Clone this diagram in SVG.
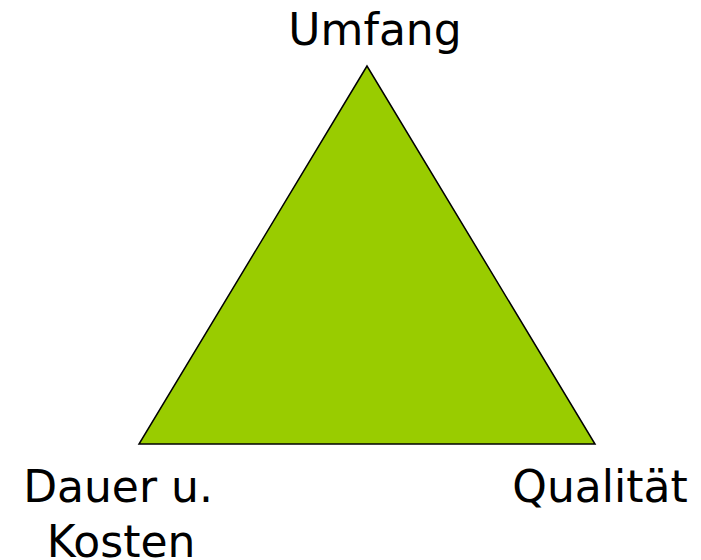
<svg xmlns="http://www.w3.org/2000/svg" width="701" height="560" viewBox="0 0 701 560">
<style>
.lbl{font-family:"DejaVu Sans",Verdana,sans-serif;font-size:44px;fill:#000;text-anchor:middle}
.tri{fill:#99CC00;stroke:#000;stroke-width:1.5}
</style>
<rect width="701" height="560" fill="#fff"/>
<g id="triangle"><polygon class="tri" points="367,66 139,444 595,444"/></g>
<g id="umfang"><text class="lbl" x="375" y="45">Umfang</text></g>
<g id="dauer"><text class="lbl" x="118" y="502">Dauer u.</text><text class="lbl" x="121" y="557">Kosten</text></g>
<g id="qualitaet"><text class="lbl" x="600" y="502">Qualität</text></g>
<g id="connectors"/>
</svg>
